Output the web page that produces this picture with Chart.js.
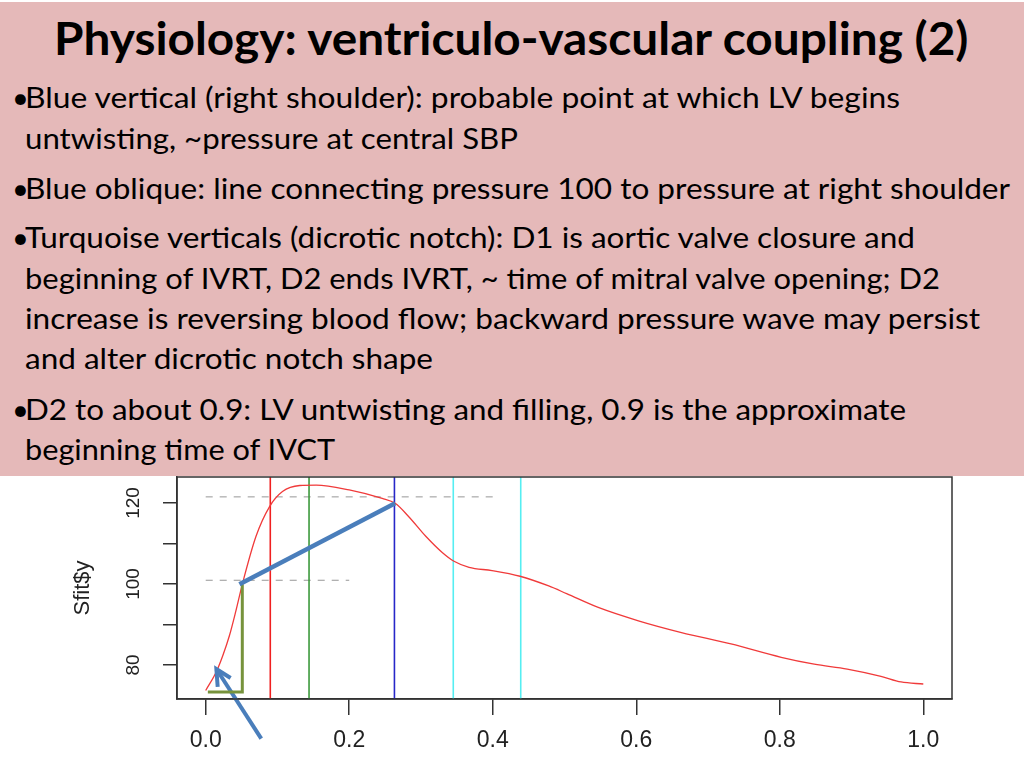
<!DOCTYPE html>
<html lang="en">
<head>
<meta charset="UTF-8">
<title>Physiology: ventriculo-vascular coupling (2)</title>
<script src="https://cdn.jsdelivr.net/npm/chart.js@4.4.1/dist/chart.umd.min.js"></script>
<style>
    html, body {
        margin: 0;
        padding: 0;
        background: #fff;
    }

    body {
        width: 1024px;
        height: 768px;
        position: relative;
        overflow: hidden;
        font-family: Lato, "Open Sans", sans-serif;
    }

    .slide-top {
        position: absolute;
        left: 0;
        top: 2px;
        width: 1024px;
        height: 474px;
        background: #e5b9b9;
        z-index: 2;
    }

    .txt {
        position: absolute;
        left: 0;
        top: 0;
        white-space: nowrap;
        color: #000;
        line-height: 1;
        transform-origin: 0 0;
    }

    .title { font-weight: bold; font-size: 45px; }
    .body { font-size: 29px; }

    .chart-box {
        position: absolute;
        left: 0;
        top: 460px;
        width: 1024px;
        height: 308px;
    }
</style>
</head>
<body>
<div class="slide-top" id="slideTop"></div>
<div class="chart-box"><canvas id="pressureChart"></canvas></div>

<script>
    // slide text: [text, bullet?, baseline y, right edge x]
    const slideLines = [
        ['Physiology: ventriculo-vascular coupling (2)', 'title', 55, 968],
        ['Blue vertical (right shoulder): probable point at which LV begins', true, 108, 900],
        ['untwisting, ~pressure at central SBP', false, 148.5, 518],
        ['Blue oblique: line connecting pressure 100 to pressure at right shoulder', true, 199, 1010],
        ['Turquoise verticals (dicrotic notch): D1 is aortic valve closure and', true, 248, 915],
        ['beginning of IVRT, D2 ends IVRT, ~ time of mitral valve opening; D2', false, 288.5, 940],
        ['increase is reversing blood flow; backward pressure wave may persist', false, 329, 980],
        ['and alter dicrotic notch shape', false, 369, 433],
        ['D2 to about 0.9: LV untwisting and filling, 0.9 is the approximate', true, 419.5, 906],
        ['beginning time of IVCT', false, 460, 335]
    ];

    // chart data
    const timeX = [0.000, 0.015, 0.024, 0.033, 0.042, 0.051, 0.070, 0.089, 0.107, 0.131,
                   0.154, 0.200, 0.246, 0.264, 0.283, 0.307, 0.330, 0.346, 0.367, 0.399,
                   0.438, 0.478, 0.503, 0.547, 0.603, 0.663, 0.732, 0.802, 0.848, 0.894,
                   0.941, 0.969, 1.000];
    const sfitY = [73.7, 78.4, 82.4, 87.2, 93.3, 99.9, 111.7, 119.1, 122.8, 124.3,
                   124.4, 123.2, 121.1, 119.9, 116.6, 111.7, 107.7, 105.6, 104.1, 103.3,
                   101.9, 99.5, 97.6, 94.2, 90.9, 88.0, 85.2, 81.9, 80.2, 79.0,
                   77.2, 75.8, 75.3];

    const verticalX = [0.090, 0.144, 0.263, 0.345, 0.439];
    const verticalColors = ['#f02020', '#3d9a3d', '#2727c8', '#55eef2', '#55eef2'];

    const dashY = [121.5, 100.9];
    const dashEndX = [0.4, 0.2];

    const obliqueX = [0.047, 0.264];
    const obliqueY = [99.9, 119.9];

    const bracketX = [0.003, 0.051, 0.051];
    const bracketY = [73.3, 73.3, 99.9];

    const arrowShaftX = [0.0774, 0.0149];
    const arrowShaftY = [61.8, 79.0];
    const arrowHeadX = [0.0347, 0.0149, 0.0167];
    const arrowHeadY = [76.8, 79.0, 74.6];

    const xTicks = [0, 0.2, 0.4, 0.6, 0.8, 1.0];
    const yTicks = [80, 90, 100, 110, 120];
    const yLabelled = [80, 100, 120];
    const xMin = -0.04, xMax = 1.04, yMin = 71.6, yMax = 126.4;

    // place slide text on its baselines
    const slide = document.getElementById('slideTop');
    slideLines.forEach(([text, kind, baseline, right]) => {
        const isTitle = kind === 'title';
        const left = isTitle ? 53.5 : 25;
        const div = document.createElement('div');
        div.className = 'txt ' + (isTitle ? 'title' : 'body');
        const span = document.createElement('span');
        span.textContent = text;
        const mark = document.createElement('span');
        mark.style.cssText = 'display:inline-block;width:0;height:0;';
        div.appendChild(span);
        div.appendChild(mark);
        slide.appendChild(div);
        const base = mark.getBoundingClientRect().top - div.getBoundingClientRect().top;
        const w = span.getBoundingClientRect().width;
        div.style.top = (baseline - 2 - base) + 'px';
        div.style.left = left + 'px';
        div.style.transform = 'scaleX(' + ((right - left) / w).toFixed(4) + ')';

        if (kind === true) {
            const b = document.createElement('div');
            b.className = 'txt body';
            b.textContent = '•';
            const m2 = mark.cloneNode();
            b.appendChild(m2);
            slide.appendChild(b);
            const bb = m2.getBoundingClientRect().top - b.getBoundingClientRect().top;
            b.style.top = (baseline - 2 - bb) + 'px';
            b.style.left = '12px';
        }
    });

    const pts = (xs, ys) => xs.map((x, i) => ({ x: x, y: ys[i] }));

    const datasets = [];
    datasets.push({
        data: pts(obliqueX, obliqueY),
        borderColor: '#4a7ebb', borderWidth: 4.5, pointRadius: 0
    });
    datasets.push({
        data: pts(bracketX, bracketY),
        borderColor: '#77933c', borderWidth: 3, pointRadius: 0, borderJoinStyle: 'miter'
    });
    datasets.push({
        data: pts(arrowShaftX, arrowShaftY),
        borderColor: '#4a7ebb', borderWidth: 4, pointRadius: 0, clip: false
    });
    datasets.push({
        data: pts(arrowHeadX, arrowHeadY),
        borderColor: '#4a7ebb', borderWidth: 4, pointRadius: 0, clip: false,
        borderJoinStyle: 'miter'
    });
    datasets.push({
        data: pts(timeX, sfitY),
        borderColor: '#f03a3a', borderWidth: 1.3, pointRadius: 0,
        cubicInterpolationMode: 'monotone'
    });
    verticalX.forEach((x, i) => {
        datasets.push({
            data: [{ x: x, y: yMin }, { x: x, y: yMax }],
            borderColor: verticalColors[i], borderWidth: 1.6, pointRadius: 0
        });
    });
    dashY.forEach((y, i) => {
        datasets.push({
            data: [{ x: 0, y: y }, { x: dashEndX[i], y: y }],
            borderColor: '#a8a8a8', borderWidth: 1.2, borderDash: [7, 7], pointRadius: 0
        });
    });

    const boxPlugin = {
        id: 'plotBox',
        afterDraw(chart) {
            const { ctx, chartArea: a } = chart;
            ctx.save();
            ctx.strokeStyle = '#333';
            ctx.lineWidth = 1.5;
            ctx.strokeRect(a.left, a.top, a.right - a.left, a.bottom - a.top);
            ctx.restore();
        }
    };

    const axisFont = 'Liberation Sans, Arial, sans-serif';

    new Chart(document.getElementById('pressureChart'), {
        type: 'line',
        data: { datasets: datasets },
        plugins: [boxPlugin],
        options: {
            responsive: true,
            maintainAspectRatio: false,
            animation: false,
            layout: { padding: { top: 17, right: 72, left: 0, bottom: 0 } },
            plugins: {
                legend: { display: false },
                tooltip: { enabled: false }
            },
            scales: {
                x: {
                    type: 'linear',
                    min: xMin,
                    max: xMax,
                    afterBuildTicks: s => { s.ticks = xTicks.map(v => ({ value: v })); },
                    afterFit: s => { s.height = 69; s.paddingLeft = 0; s.paddingRight = 0; },
                    ticks: {
                        color: '#222',
                        font: { family: axisFont, size: 23 },
                        padding: 12,
                        maxRotation: 0,
                        callback: v => v.toFixed(1)
                    },
                    grid: { drawOnChartArea: false, tickLength: 16, color: '#333', lineWidth: 1.5 },
                    border: { color: '#333', width: 1.5 }
                },
                y: {
                    type: 'linear',
                    min: yMin,
                    max: yMax,
                    afterBuildTicks: s => { s.ticks = yTicks.map(v => ({ value: v })); },
                    afterFit: s => { s.width = 177; s.paddingTop = 0; s.paddingBottom = 0; },
                    ticks: {
                        color: '#222',
                        font: { family: axisFont, size: 19 },
                        padding: 13,
                        minRotation: 90,
                        maxRotation: 90,
                        crossAlign: 'center',
                        callback: v => yLabelled.includes(v) ? String(v) : ''
                    },
                    grid: { drawOnChartArea: false, tickLength: 14, color: '#333', lineWidth: 1.5 },
                    border: { color: '#333', width: 1.5 },
                    title: {
                        display: true,
                        text: 'Sfit$y',
                        color: '#222',
                        font: { family: axisFont, size: 22 },
                        padding: { top: 70, bottom: 0 }
                    }
                }
            }
        }
    });
</script>
</body>
</html>
